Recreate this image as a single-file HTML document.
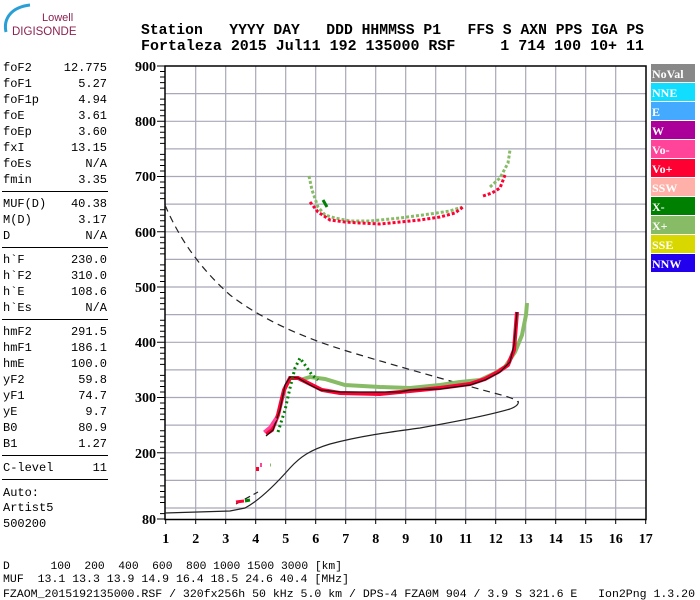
<!DOCTYPE html>
<html><head><meta charset="utf-8"><style>
html,body{margin:0;padding:0;background:#fff;}
svg{display:block;}
.m{font-family:"Liberation Mono",monospace;}
</style></head><body>
<svg width="700" height="600" viewBox="0 0 700 600" xmlns="http://www.w3.org/2000/svg">
<rect width="700" height="600" fill="#fff"/>
<path d="M6,32 C3,18 12,7 30,5" stroke="#2a9fd6" stroke-width="3" fill="none"/>
<text x="42" y="21" font-family="Liberation Sans,sans-serif" font-size="11" fill="#8b2252">Lowell</text>
<text x="12" y="35" font-family="Liberation Sans,sans-serif" font-size="11.5" fill="#8b2252">DIGISONDE</text>
<g class="m" font-size="14.7" font-weight="bold" fill="#000">
<text x="141" y="34" xml:space="preserve" textLength="503" lengthAdjust="spacingAndGlyphs">Station   YYYY DAY   DDD HHMMSS P1   FFS S AXN PPS IGA PS</text>
<text x="141" y="50" xml:space="preserve" textLength="503" lengthAdjust="spacingAndGlyphs">Fortaleza 2015 Jul11 192 135000 RSF     1 714 100 10+ 11</text>
</g>
<g class="m" font-size="12" fill="#000">
<text x="3" y="71">foF2</text><text x="107" y="71" text-anchor="end">12.775</text>
<text x="3" y="87">foF1</text><text x="107" y="87" text-anchor="end">5.27</text>
<text x="3" y="103">foF1p</text><text x="107" y="103" text-anchor="end">4.94</text>
<text x="3" y="119">foE</text><text x="107" y="119" text-anchor="end">3.61</text>
<text x="3" y="135">foEp</text><text x="107" y="135" text-anchor="end">3.60</text>
<text x="3" y="151">fxI</text><text x="107" y="151" text-anchor="end">13.15</text>
<text x="3" y="167">foEs</text><text x="107" y="167" text-anchor="end">N/A</text>
<text x="3" y="183">fmin</text><text x="107" y="183" text-anchor="end">3.35</text>
<text x="3" y="207">MUF(D)</text><text x="107" y="207" text-anchor="end">40.38</text>
<text x="3" y="223">M(D)</text><text x="107" y="223" text-anchor="end">3.17</text>
<text x="3" y="239">D</text><text x="107" y="239" text-anchor="end">N/A</text>
<text x="3" y="263">h`F</text><text x="107" y="263" text-anchor="end">230.0</text>
<text x="3" y="279">h`F2</text><text x="107" y="279" text-anchor="end">310.0</text>
<text x="3" y="295">h`E</text><text x="107" y="295" text-anchor="end">108.6</text>
<text x="3" y="311">h`Es</text><text x="107" y="311" text-anchor="end">N/A</text>
<text x="3" y="335">hmF2</text><text x="107" y="335" text-anchor="end">291.5</text>
<text x="3" y="351">hmF1</text><text x="107" y="351" text-anchor="end">186.1</text>
<text x="3" y="367">hmE</text><text x="107" y="367" text-anchor="end">100.0</text>
<text x="3" y="383">yF2</text><text x="107" y="383" text-anchor="end">59.8</text>
<text x="3" y="399">yF1</text><text x="107" y="399" text-anchor="end">74.7</text>
<text x="3" y="415">yE</text><text x="107" y="415" text-anchor="end">9.7</text>
<text x="3" y="431">B0</text><text x="107" y="431" text-anchor="end">80.9</text>
<text x="3" y="447">B1</text><text x="107" y="447" text-anchor="end">1.27</text>
<text x="3" y="471">C-level</text><text x="107" y="471" text-anchor="end">11</text>
<text x="3" y="496">Auto:</text>
<text x="3" y="511">Artist5</text>
<text x="3" y="527">500200</text>
</g>
<g stroke="#000" stroke-width="1">
<line x1="2" y1="191.5" x2="108" y2="191.5"/>
<line x1="2" y1="247.5" x2="108" y2="247.5"/>
<line x1="2" y1="319.5" x2="108" y2="319.5"/>
<line x1="2" y1="455.5" x2="108" y2="455.5"/>
<line x1="2" y1="479.5" x2="108" y2="479.5"/>
</g>
<g stroke="#a8a8b8" stroke-width="1.2">
<line x1="195.7" y1="66" x2="195.7" y2="519"/><line x1="225.7" y1="66" x2="225.7" y2="519"/>
<line x1="255.7" y1="66" x2="255.7" y2="519"/><line x1="285.7" y1="66" x2="285.7" y2="519"/>
<line x1="315.7" y1="66" x2="315.7" y2="519"/><line x1="345.7" y1="66" x2="345.7" y2="519"/>
<line x1="375.7" y1="66" x2="375.7" y2="519"/><line x1="405.7" y1="66" x2="405.7" y2="519"/>
<line x1="435.7" y1="66" x2="435.7" y2="519"/><line x1="465.7" y1="66" x2="465.7" y2="519"/>
<line x1="495.7" y1="66" x2="495.7" y2="519"/><line x1="525.7" y1="66" x2="525.7" y2="519"/>
<line x1="555.7" y1="66" x2="555.7" y2="519"/><line x1="585.7" y1="66" x2="585.7" y2="519"/>
<line x1="615.7" y1="66" x2="615.7" y2="519"/>
<line x1="165" y1="93.6" x2="646" y2="93.6"/><line x1="165" y1="121.3" x2="646" y2="121.3"/>
<line x1="165" y1="148.9" x2="646" y2="148.9"/><line x1="165" y1="176.5" x2="646" y2="176.5"/>
<line x1="165" y1="204.1" x2="646" y2="204.1"/><line x1="165" y1="231.8" x2="646" y2="231.8"/>
<line x1="165" y1="259.4" x2="646" y2="259.4"/><line x1="165" y1="287" x2="646" y2="287"/>
<line x1="165" y1="314.6" x2="646" y2="314.6"/><line x1="165" y1="342.3" x2="646" y2="342.3"/>
<line x1="165" y1="369.9" x2="646" y2="369.9"/><line x1="165" y1="397.5" x2="646" y2="397.5"/>
<line x1="165" y1="425.1" x2="646" y2="425.1"/><line x1="165" y1="452.8" x2="646" y2="452.8"/>
<line x1="165" y1="480.4" x2="646" y2="480.4"/><line x1="165" y1="508" x2="646" y2="508"/>
</g>
<rect x="165" y="66" width="481" height="453.5" fill="none" stroke="#000" stroke-width="1.5"/>
<g stroke="#000" stroke-width="1">
<path d="M160,71.5h5M160,77h5M160,82.6h5M160,88.1h5M160,99.1h5M160,104.7h5M160,110.2h5M160,115.7h5M160,126.8h5M160,132.3h5M160,137.8h5M160,143.4h5M160,154.4h5M160,159.9h5M160,165.5h5M160,171h5M160,182h5M160,187.6h5M160,193.1h5M160,198.6h5M160,209.7h5M160,215.2h5M160,220.7h5M160,226.2h5M160,237.3h5M160,242.8h5M160,248.3h5M160,253.9h5M160,264.9h5M160,270.4h5M160,276h5M160,281.5h5M160,292.5h5M160,298.1h5M160,303.6h5M160,309.1h5M160,320.2h5M160,325.7h5M160,331.2h5M160,336.8h5M160,347.8h5M160,353.3h5M160,358.9h5M160,364.4h5M160,375.4h5M160,381h5M160,386.5h5M160,392h5M160,403h5M160,408.6h5M160,414.1h5M160,419.6h5M160,430.7h5M160,436.2h5M160,441.7h5M160,447.3h5M160,458.3h5M160,463.8h5M160,469.4h5M160,474.9h5M160,485.9h5M160,491.5h5M160,497h5M160,502.5h5M160,513.6h5"/>
<path d="M157,66h8M157,121.3h8M157,176.5h8M157,231.8h8M157,287h8M157,342.3h8M157,397.5h8M157,452.8h8M157,519h8"/>
<path d="M165.7,519v5M195.7,519v5M225.7,519v5M255.7,519v5M285.7,519v5M315.7,519v5M345.7,519v5M375.7,519v5M405.7,519v5M435.7,519v5M465.7,519v5M495.7,519v5M525.7,519v5M555.7,519v5M585.7,519v5M615.7,519v5M645.7,519v5"/>
</g>
<g font-family="Liberation Serif,serif" font-weight="bold" font-size="14" fill="#000" text-anchor="end">
<text x="156" y="71">900</text><text x="156" y="126">800</text><text x="156" y="181">700</text>
<text x="156" y="237">600</text><text x="156" y="292">500</text><text x="156" y="347">400</text>
<text x="156" y="402">300</text><text x="156" y="458">200</text><text x="156" y="524">80</text>
</g>
<g font-family="Liberation Serif,serif" font-weight="bold" font-size="14" fill="#000" text-anchor="middle">
<text x="165.7" y="543">1</text><text x="195.7" y="543">2</text><text x="225.7" y="543">3</text>
<text x="255.7" y="543">4</text><text x="285.7" y="543">5</text><text x="315.7" y="543">6</text>
<text x="345.7" y="543">7</text><text x="375.7" y="543">8</text><text x="405.7" y="543">9</text>
<text x="435.7" y="543">10</text><text x="465.7" y="543">11</text><text x="495.7" y="543">12</text>
<text x="525.7" y="543">13</text><text x="555.7" y="543">14</text><text x="585.7" y="543">15</text>
<text x="615.7" y="543">16</text><text x="645.7" y="543">17</text>
</g>
<path d="M165,205 C180,240 200,268 230,295 C260,318 300,337 350,352 C400,367 450,381 490,392 C505,396 514,398 518,402" fill="none" stroke="#222" stroke-width="1.2" stroke-dasharray="7,5"/>
<path d="M236,504 L258,492" fill="none" stroke="#222" stroke-width="1.2" stroke-dasharray="6,4"/>
<path d="M165,513 L230,511 L245,508 C260,500 275,485 290,468 C300,457 310,450 330,444 C360,436 390,432 420,428 C460,421 490,415 510,409 C518,406 519,403 518,401" fill="none" stroke="#222" stroke-width="1.2"/>
<path d="M309,176 L312,190 L318,207 L325,215 L335,218 L350,221 L370,221 L400,218 L430,214 L450,211 L462,207 M490,187 L500,178 L508,163 L510,150" fill="none" stroke="#88bb66" stroke-width="3" stroke-dasharray="3,2"/>
<path d="M310,202 L318,212 L330,220 L345,222 L360,223 L380,224 L400,222 L420,220 L440,217 L455,213 L463,207 M483,196 L492,193 L500,188 L505,175" fill="none" stroke="#ff0033" stroke-width="3" stroke-dasharray="3,2"/>
<path d="M323,200 L327,207" stroke="#008000" stroke-width="3"/>
<path d="M300,380 L310,377 L325,379 L345,385 L380,387 L410,388 L440,385 L460,382 L480,380 L495,373 L505,367 L515,352 L522,335 L526,315 L527,303" fill="none" stroke="#88bb66" stroke-width="4"/>
<path d="M266,434 L272,430 L278,415 L284,390 L290,378 L298,378 L310,384 L322,390 L340,393 L380,394 L410,391 L440,388 L470,384 L485,379 L498,372 L508,365 L514,350 L517,312" fill="none" stroke="#ff0033" stroke-width="4"/>
<path d="M266,436 L273,430 L280,410 L285,385 L290,377 L298,378 L310,385 L320,390 L340,392 L400,392 L410,390 L440,389 L470,385 L485,380 L500,372 L510,362 L514,345 L517,312" fill="none" stroke="#111" stroke-width="1.2"/>
<path d="M264,432 L270,427 L276,418" stroke="#ff4499" stroke-width="3" fill="none"/>
<path d="M278,432 L285,410 L290,388 L295,368 L300,358 L305,365 L312,375 L318,380" fill="none" stroke="#008000" stroke-width="3" stroke-dasharray="2,3"/>
<path d="M236,502 L244,501" stroke="#ff0033" stroke-width="3"/>
<path d="M245,501 L250,500" stroke="#008000" stroke-width="3"/>
<path d="M256,469 L259,469" stroke="#ff0033" stroke-width="4"/>
<path d="M260,465 L262,465" stroke="#ff4499" stroke-width="4"/>
<path d="M270,465 L271,465" stroke="#88bb66" stroke-width="3"/>
<g font-family="Liberation Serif,serif" font-weight="bold" font-size="12" fill="#fff">
<rect x="651" y="64" width="44" height="18" fill="#888888"/><text x="652" y="78">NoVal</text>
<rect x="651" y="83" width="44" height="18" fill="#11ddff"/><text x="652" y="97">NNE</text>
<rect x="651" y="102" width="44" height="18" fill="#44aaff"/><text x="652" y="116">E</text>
<rect x="651" y="121" width="44" height="18" fill="#aa0099"/><text x="652" y="135">W</text>
<rect x="651" y="140" width="44" height="18" fill="#ff4499"/><text x="652" y="154">Vo-</text>
<rect x="651" y="159" width="44" height="18" fill="#ff0033"/><text x="652" y="173">Vo+</text>
<rect x="651" y="178" width="44" height="18" fill="#ffb0a8"/><text x="652" y="192">SSW</text>
<rect x="651" y="197" width="44" height="18" fill="#008000"/><text x="652" y="211">X-</text>
<rect x="651" y="216" width="44" height="18" fill="#88bb66"/><text x="652" y="230">X+</text>
<rect x="651" y="235" width="44" height="18" fill="#d8d800"/><text x="652" y="249">SSE</text>
<rect x="651" y="254" width="44" height="18" fill="#2200ee"/><text x="652" y="268">NNW</text>
</g>
<g class="m" font-size="11.4" fill="#000">
<text x="3" y="569" xml:space="preserve" textLength="339" lengthAdjust="spacingAndGlyphs">D      100  200  400  600  800 1000 1500 3000 [km]</text>
<text x="3" y="582" xml:space="preserve" textLength="346" lengthAdjust="spacingAndGlyphs">MUF  13.1 13.3 13.9 14.9 16.4 18.5 24.6 40.4 [MHz]</text>
<text x="3" y="597" xml:space="preserve" textLength="692" lengthAdjust="spacingAndGlyphs">FZAOM_2015192135000.RSF / 320fx256h 50 kHz 5.0 km / DPS-4 FZA0M 904 / 3.9 S 321.6 E   Ion2Png 1.3.20</text>
</g>
</svg>
</body></html>
